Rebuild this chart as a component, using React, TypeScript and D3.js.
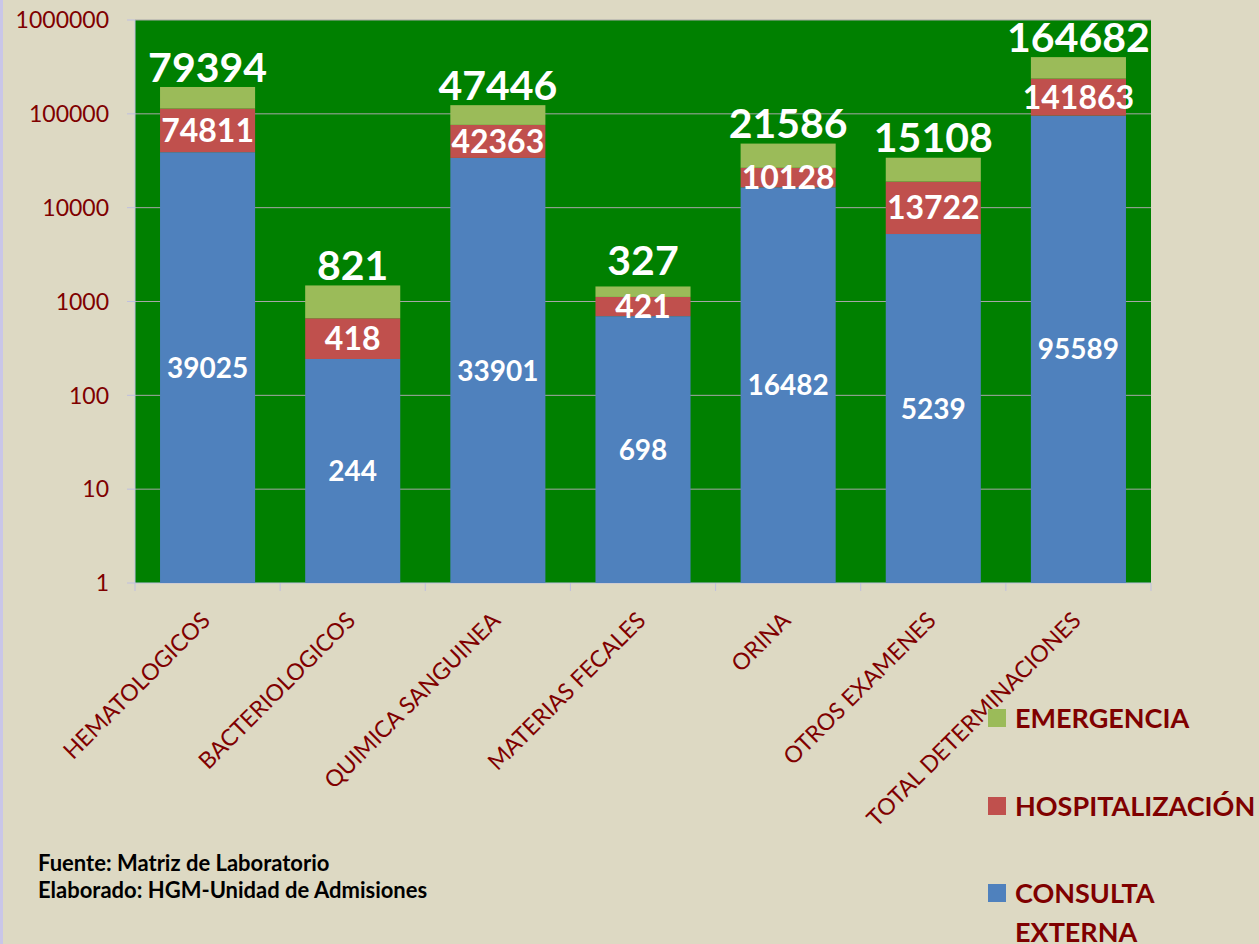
import React from 'react';
import * as d3 from 'd3';

const categories = ['HEMATOLOGICOS', 'BACTERIOLOGICOS', 'QUIMICA SANGUINEA', 'MATERIAS FECALES', 'ORINA', 'OTROS EXAMENES', 'TOTAL DETERMINACIONES'];
const consultaExterna = [39025, 244, 33901, 698, 16482, 5239, 95589];
const hospitalizacion = [74811, 418, 42363, 421, 10128, 13722, 141863];
const emergencia = [79394, 821, 47446, 327, 21586, 15108, 164682];
const yTicks = [1, 10, 100, 1000, 10000, 100000, 1000000];
const seriesKeys = ['consulta', 'hosp', 'emerg'];
const seriesColors = ['#4F81BD', '#C0504D', '#9BBB59'];

const W = 1259;
const H = 944;
const plot = { left: 135, right: 1151, top: 20, bottom: 583 };
const font = 'Lato, "Open Sans", sans-serif';
const darkRed = '#7F0000';

export default function App() {
    const rows = categories.map((c, i) => ({
        cat: c,
        consulta: consultaExterna[i],
        hosp: hospitalizacion[i],
        emerg: emergencia[i],
    }));
    const stacked = d3.stack<any>().keys(seriesKeys)(rows);

    const x = d3.scaleBand().domain(categories).range([plot.left, plot.right])
        .paddingInner(0.345).paddingOuter(0.1725);
    const y = d3.scaleLog().domain([1, 1000000]).range([plot.bottom, plot.top]);

    const segMid = (d: any) => (y(Math.max(d[0], 1)) + y(d[1])) / 2;

    // legend goes top to bottom: emergencia, hosp, consulta
    const legendItems = [
        { name: ['EMERGENCIA'], color: seriesColors[2], y: 718 },
        { name: ['HOSPITALIZACIÓN'], color: seriesColors[1], y: 806 },
        { name: ['CONSULTA', 'EXTERNA'], color: seriesColors[0], y: 893 },
    ];

    return (
        <svg width={W} height={H} style={{ position: 'absolute', left: 0, top: 0, fontFamily: font }}>
            <rect x={0} y={0} width={W} height={H} fill="#DDD9C3" />
            <line x1={1.5} x2={1.5} y1={0} y2={H} stroke="#C9C6E8" strokeWidth={3} />

            {/* plot area */}
            <rect x={plot.left} y={plot.top} width={plot.right - plot.left} height={plot.bottom - plot.top} fill="#008000" />
            {yTicks.map(t => (
                <g key={t}>
                    {t !== 1 && (
                        <line x1={plot.left} x2={plot.right} y1={y(t)} y2={y(t)} stroke="#A6A6A6" strokeWidth={1} />
                    )}
                    <line x1={plot.left - 8} x2={plot.left} y1={y(t)} y2={y(t)} stroke="#BFBFDF" strokeWidth={1} />
                    <text x={109} y={y(t)} dy="0.36em" textAnchor="end" fontSize={23} fill={darkRed}>{t}</text>
                </g>
            ))}
            <line x1={plot.left} x2={plot.left} y1={plot.top} y2={plot.bottom} stroke="#BFBFDF" />
            <line x1={plot.left} x2={plot.right} y1={plot.bottom} y2={plot.bottom} stroke="#BFBFDF" />
            {d3.range(categories.length + 1).map(i => {
                const xx = plot.left + i * x.step();
                return <line key={i} x1={xx} x2={xx} y1={plot.bottom} y2={plot.bottom + 8} stroke="#BFBFDF" />;
            })}

            {/* bars */}
            {stacked.map((s, si) => (
                <g key={s.key} fill={seriesColors[si]}>
                    {s.map((d, i) => (
                        <rect key={i} x={x(categories[i])} width={x.bandwidth()}
                            y={y(d[1])} height={y(Math.max(d[0], 1)) - y(d[1])} />
                    ))}
                </g>
            ))}

            {/* value labels */}
            {stacked.map((s, si) => s.map((d, i) => {
                const cx = (x(categories[i]) as number) + x.bandwidth() / 2;
                const val = d[1] - d[0];
                if (si === 2) {
                    // sit above the bar, but keep clear of the hospitalizacion label
                    const ly = Math.min(y(d[1]) - 20, segMid(stacked[1][i]) - 46);
                    return (
                        <text key={'l' + si + i} x={cx} y={ly} dy="0.36em" textAnchor="middle"
                            fontSize={41} fontWeight="bold" fill="#fff">{val}</text>
                    );
                }
                return (
                    <text key={'l' + si + i} x={cx} y={segMid(d)} dy="0.36em" textAnchor="middle"
                        fontSize={si === 0 ? 28 : 32} fontWeight="bold" fill="#fff">{val}</text>
                );
            }))}

            {/* category labels */}
            {categories.map(c => (
                <text key={c} transform={`translate(${(x(c) as number) + x.bandwidth() / 2 + 4},622) rotate(-45)`}
                    textAnchor="end" fontSize={23} fill={darkRed}>{c}</text>
            ))}

            {/* legend */}
            {legendItems.map(l => (
                <g key={l.name[0]}>
                    <rect x={988} y={l.y - 9} width={18} height={18} fill={l.color} />
                    {l.name.map((n, k) => (
                        <text key={n} x={1015} y={l.y + k * 39} dy="0.36em" fontSize={27} fontWeight="bold" fill={darkRed}>{n}</text>
                    ))}
                </g>
            ))}

            {/* source */}
            <text x={38} y={871} fontSize={22} fontWeight="bold" fill="#000">Fuente: Matriz de Laboratorio</text>
            <text x={38} y={898} fontSize={22} fontWeight="bold" fill="#000">Elaborado: HGM-Unidad de Admisiones</text>
        </svg>
    );
}
